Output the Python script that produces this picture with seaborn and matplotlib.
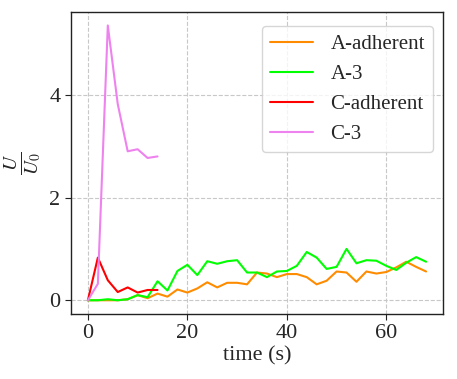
import numpy as np
import pandas as pd
import matplotlib
matplotlib.use("Agg")
import matplotlib.pyplot as plt
import seaborn as sns

time_a = list(range(0, 70, 2))
a_adherent = [0.0, 0.0, 0.0, 0.0, 0.02, 0.10, 0.04, 0.13, 0.07, 0.21, 0.15, 0.23,
              0.35, 0.25, 0.34, 0.34, 0.31, 0.54, 0.52, 0.45, 0.51, 0.51, 0.45,
              0.31, 0.38, 0.56, 0.54, 0.36, 0.56, 0.52, 0.55, 0.64, 0.75, 0.65, 0.56]
a_3 = [0.0, 0.0, 0.02, 0.0, 0.02, 0.10, 0.06, 0.37, 0.19, 0.57, 0.69, 0.49,
       0.76, 0.71, 0.76, 0.78, 0.54, 0.54, 0.45, 0.56, 0.57, 0.67, 0.94,
       0.83, 0.61, 0.65, 1.00, 0.72, 0.78, 0.77, 0.67, 0.59, 0.73, 0.84, 0.75]
time_c = list(range(0, 16, 2))
c_adherent = [0.0, 0.83, 0.39, 0.16, 0.25, 0.15, 0.20, 0.20]
c_3 = [0.0, 0.32, 5.35, 3.82, 2.90, 2.94, 2.77, 2.80]

series_names = ["A-adherent", "A-3", "C-adherent", "C-3"]
series_colors = ["darkorange", "lime", "red", "violet"]

frames = [
    pd.DataFrame({"t": time_a, "u": a_adherent, "s": "A-adherent"}),
    pd.DataFrame({"t": time_a, "u": a_3, "s": "A-3"}),
    pd.DataFrame({"t": time_c, "u": c_adherent, "s": "C-adherent"}),
    pd.DataFrame({"t": time_c, "u": c_3, "s": "C-3"}),
]
df = pd.concat(frames, ignore_index=True)

sns.set_style("ticks")
plt.rcParams["font.family"] = ["Liberation Serif", "DejaVu Serif"]
plt.rcParams["mathtext.fontset"] = "stix"

fig = plt.figure(figsize=(4.57, 3.79), dpi=100)
ax = fig.add_axes([71 / 457, 1 - 314 / 379, 372 / 457, 302.3 / 379])
sns.lineplot(data=df, x="t", y="u", hue="s", hue_order=series_names,
             palette=series_colors, linewidth=1.5, ax=ax)

ax.grid(True, linestyle="--", color="#c8c8c8", linewidth=0.8)
ax.set_axisbelow(True)
for sp in ax.spines.values():
    sp.set_color("#222222")
    sp.set_linewidth(1.0)
ax.set_xticks([0, 20, 40, 60])
ax.set_yticks([0, 2, 4])
ax.tick_params(labelsize=16, length=4, color="#222222")
ax.set_xlabel("time (s)", fontsize=16, labelpad=2)
ax.set_ylabel(r"$\frac{U}{U_0}$", fontsize=20, labelpad=4)
leg = ax.legend(loc="upper right", bbox_to_anchor=(0.974, 0.953), borderaxespad=0,
                fontsize=15, frameon=True, handlelength=2.05,
                borderpad=0.4, labelspacing=0.5, handletextpad=0.85)
leg.set_title(None)
leg.get_frame().set_edgecolor("#cccccc")

fig.savefig("out.png", dpi=100)
